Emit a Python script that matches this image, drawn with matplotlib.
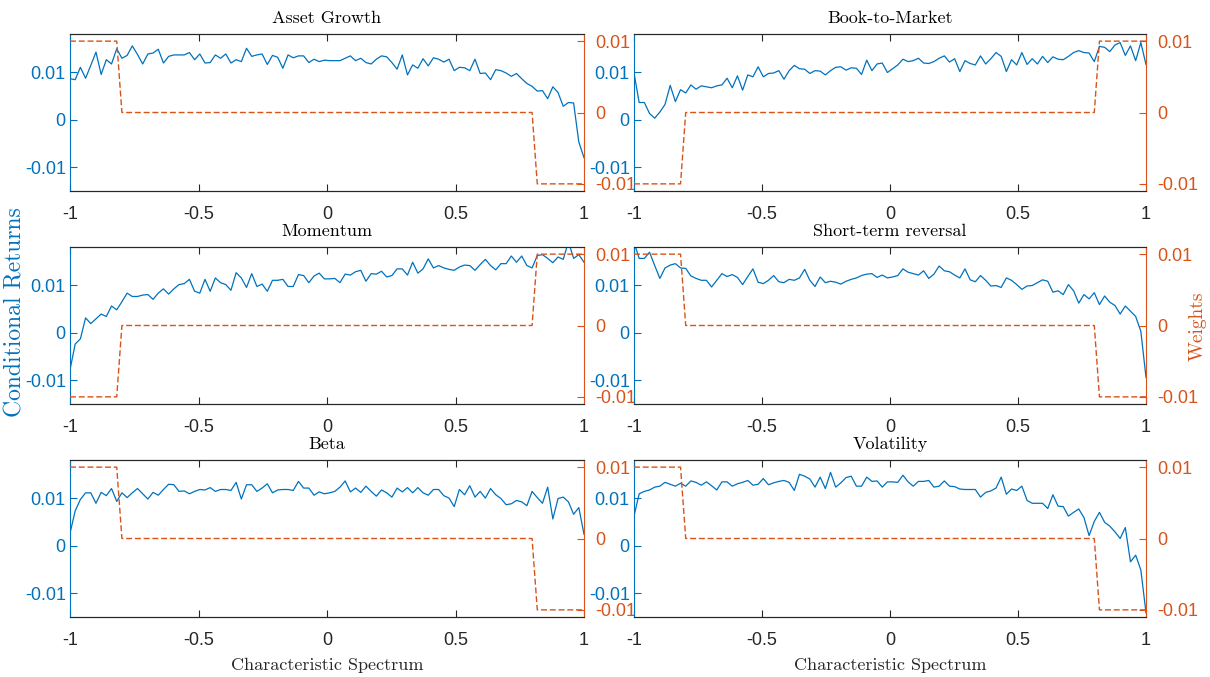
import numpy as np
import matplotlib.pyplot as plt

plt.rcParams['font.family'] = ['Liberation Sans Narrow', 'Liberation Sans', 'DejaVu Sans']

# characteristic spectrum grid (100 portfolios from -1 to 1)
x = np.linspace(-1, 1, 100)

titles = ['Asset Growth', 'Book-to-Market', 'Momentum',
          'Short-term reversal', 'Beta', 'Volatility']

asset_growth = [
    0.0086, 0.0084, 0.0110, 0.0087, 0.0114, 0.0142, 0.0095, 0.0126, 0.0117, 0.0149,
    0.0129, 0.0135, 0.0155, 0.0137, 0.0117, 0.0138, 0.0140, 0.0148, 0.0119, 0.0133,
    0.0136, 0.0136, 0.0136, 0.0141, 0.0126, 0.0138, 0.0119, 0.0120, 0.0136, 0.0129,
    0.0138, 0.0119, 0.0126, 0.0122, 0.0150, 0.0133, 0.0136, 0.0138, 0.0116, 0.0135,
    0.0131, 0.0108, 0.0136, 0.0130, 0.0134, 0.0134, 0.0120, 0.0127, 0.0122, 0.0125,
    0.0124, 0.0124, 0.0124, 0.0129, 0.0134, 0.0124, 0.0129, 0.0120, 0.0117, 0.0127,
    0.0134, 0.0132, 0.0120, 0.0106, 0.0136, 0.0094, 0.0115, 0.0108, 0.0128, 0.0113,
    0.0130, 0.0127, 0.0121, 0.0127, 0.0103, 0.0110, 0.0109, 0.0103, 0.0127, 0.0097,
    0.0098, 0.0084, 0.0105, 0.0103, 0.0098, 0.0091, 0.0097, 0.0086, 0.0076, 0.0070,
    0.0060, 0.0061, 0.0044, 0.0069, 0.0057, 0.0028, 0.0036, 0.0035, -0.0047, -0.0080]

book_to_market = [
    0.0098, 0.0036, 0.0036, 0.0013, 0.0003, 0.0016, 0.0032, 0.0072, 0.0038, 0.0063,
    0.0056, 0.0073, 0.0064, 0.0071, 0.0069, 0.0067, 0.0071, 0.0073, 0.0087, 0.0067,
    0.0092, 0.0062, 0.0094, 0.0090, 0.0111, 0.0090, 0.0097, 0.0098, 0.0103, 0.0085,
    0.0103, 0.0114, 0.0107, 0.0106, 0.0097, 0.0103, 0.0102, 0.0094, 0.0103, 0.0110,
    0.0111, 0.0104, 0.0109, 0.0108, 0.0095, 0.0125, 0.0103, 0.0117, 0.0119, 0.0099,
    0.0107, 0.0115, 0.0127, 0.0122, 0.0124, 0.0129, 0.0119, 0.0118, 0.0122, 0.0129,
    0.0134, 0.0121, 0.0128, 0.0101, 0.0124, 0.0118, 0.0115, 0.0134, 0.0117, 0.0128,
    0.0141, 0.0133, 0.0101, 0.0126, 0.0115, 0.0141, 0.0116, 0.0128, 0.0117, 0.0133,
    0.0120, 0.0132, 0.0127, 0.0126, 0.0133, 0.0141, 0.0145, 0.0141, 0.0140, 0.0122,
    0.0154, 0.0152, 0.0143, 0.0157, 0.0162, 0.0135, 0.0155, 0.0124, 0.0162, 0.0116]

momentum = [
    -0.0078, -0.0024, -0.0013, 0.0031, 0.0019, 0.0029, 0.0039, 0.0034, 0.0056, 0.0048,
    0.0065, 0.0083, 0.0076, 0.0076, 0.0079, 0.0080, 0.0070, 0.0083, 0.0092, 0.0081,
    0.0092, 0.0101, 0.0103, 0.0112, 0.0087, 0.0083, 0.0112, 0.0087, 0.0115, 0.0105,
    0.0101, 0.0089, 0.0126, 0.0115, 0.0095, 0.0124, 0.0097, 0.0102, 0.0087, 0.0110,
    0.0110, 0.0112, 0.0097, 0.0097, 0.0122, 0.0120, 0.0105, 0.0119, 0.0125, 0.0113,
    0.0113, 0.0114, 0.0105, 0.0123, 0.0121, 0.0128, 0.0131, 0.0108, 0.0124, 0.0123,
    0.0129, 0.0117, 0.0120, 0.0134, 0.0134, 0.0121, 0.0148, 0.0125, 0.0134, 0.0155,
    0.0136, 0.0141, 0.0136, 0.0133, 0.0131, 0.0138, 0.0142, 0.0141, 0.0131, 0.0143,
    0.0154, 0.0141, 0.0132, 0.0145, 0.0145, 0.0161, 0.0148, 0.0161, 0.0141, 0.0136,
    0.0162, 0.0164, 0.0156, 0.0147, 0.0159, 0.0154, 0.0191, 0.0156, 0.0164, 0.0148]

short_term_reversal = [
    0.0190, 0.0156, 0.0156, 0.0169, 0.0141, 0.0114, 0.0136, 0.0142, 0.0145, 0.0136,
    0.0135, 0.0119, 0.0114, 0.0110, 0.0110, 0.0096, 0.0110, 0.0124, 0.0118, 0.0122,
    0.0116, 0.0101, 0.0118, 0.0134, 0.0106, 0.0103, 0.0110, 0.0120, 0.0107, 0.0105,
    0.0112, 0.0110, 0.0115, 0.0133, 0.0110, 0.0097, 0.0117, 0.0105, 0.0108, 0.0106,
    0.0102, 0.0108, 0.0112, 0.0115, 0.0120, 0.0123, 0.0124, 0.0116, 0.0121, 0.0115,
    0.0117, 0.0120, 0.0134, 0.0127, 0.0124, 0.0121, 0.0130, 0.0114, 0.0123, 0.0140,
    0.0130, 0.0128, 0.0121, 0.0115, 0.0134, 0.0111, 0.0107, 0.0120, 0.0110, 0.0098,
    0.0099, 0.0095, 0.0115, 0.0110, 0.0101, 0.0091, 0.0098, 0.0099, 0.0105, 0.0111,
    0.0108, 0.0085, 0.0088, 0.0080, 0.0101, 0.0088, 0.0062, 0.0080, 0.0071, 0.0084,
    0.0059, 0.0077, 0.0064, 0.0057, 0.0039, 0.0056, 0.0045, 0.0034, 0.0003, -0.0094]

beta = [
    0.0026, 0.0073, 0.0097, 0.0111, 0.0111, 0.0089, 0.0112, 0.0105, 0.0120, 0.0093,
    0.0111, 0.0101, 0.0111, 0.0120, 0.0109, 0.0098, 0.0112, 0.0106, 0.0118, 0.0129,
    0.0128, 0.0114, 0.0115, 0.0109, 0.0114, 0.0118, 0.0117, 0.0122, 0.0114, 0.0118,
    0.0118, 0.0116, 0.0133, 0.0098, 0.0128, 0.0128, 0.0114, 0.0121, 0.0130, 0.0111,
    0.0117, 0.0118, 0.0118, 0.0116, 0.0135, 0.0121, 0.0121, 0.0106, 0.0113, 0.0109,
    0.0111, 0.0114, 0.0123, 0.0136, 0.0113, 0.0121, 0.0112, 0.0125, 0.0114, 0.0104,
    0.0117, 0.0111, 0.0102, 0.0121, 0.0113, 0.0122, 0.0111, 0.0122, 0.0111, 0.0106,
    0.0118, 0.0118, 0.0105, 0.0100, 0.0082, 0.0118, 0.0107, 0.0126, 0.0102, 0.0114,
    0.0100, 0.0120, 0.0107, 0.0099, 0.0086, 0.0088, 0.0095, 0.0092, 0.0084, 0.0114,
    0.0101, 0.0089, 0.0123, 0.0056, 0.0099, 0.0102, 0.0092, 0.0066, 0.0080, 0.0024]

volatility = [
    0.0062, 0.0109, 0.0114, 0.0117, 0.0123, 0.0125, 0.0133, 0.0129, 0.0125, 0.0131,
    0.0125, 0.0136, 0.0133, 0.0127, 0.0134, 0.0126, 0.0117, 0.0134, 0.0134, 0.0125,
    0.0130, 0.0133, 0.0137, 0.0127, 0.0129, 0.0141, 0.0128, 0.0132, 0.0135, 0.0137,
    0.0133, 0.0116, 0.0150, 0.0146, 0.0140, 0.0123, 0.0144, 0.0120, 0.0154, 0.0123,
    0.0132, 0.0143, 0.0146, 0.0125, 0.0125, 0.0144, 0.0135, 0.0136, 0.0123, 0.0134,
    0.0134, 0.0133, 0.0148, 0.0134, 0.0125, 0.0135, 0.0135, 0.0137, 0.0123, 0.0125,
    0.0136, 0.0125, 0.0124, 0.0119, 0.0118, 0.0118, 0.0118, 0.0102, 0.0112, 0.0115,
    0.0121, 0.0144, 0.0108, 0.0119, 0.0116, 0.0125, 0.0095, 0.0089, 0.0089, 0.0089,
    0.0078, 0.0107, 0.0083, 0.0082, 0.0062, 0.0070, 0.0077, 0.0059, 0.0021, 0.0051,
    0.0070, 0.0049, 0.0041, 0.0029, 0.0015, 0.0038, -0.0034, -0.0020, -0.0051, -0.0141]

returns = [asset_growth, book_to_market, momentum, short_term_reversal, beta, volatility]

# weights: bottom 10 and top 10 portfolios, zero in between
low_weight = [0.01, -0.01, -0.01, 0.01, 0.01, 0.01]
high_weight = [-0.01, 0.01, 0.01, -0.01, -0.01, -0.01]
n_tail = 10

xtick_vals = [-1, -0.5, 0, 0.5, 1]
xtick_labels = ['-1', '-0.5', '0', '0.5', '1']
ytick_vals = [-0.01, 0, 0.01]
ytick_labels = ['-0.01', '0', '0.01']

blue = '#0072BD'
orange = '#D95319'
dark = '#262626'

W, H = 1210, 677
fig = plt.figure(figsize=(W / 100, H / 100), dpi=100)

lefts = [70, 634]
widths = [514, 512]
tops = [34, 247, 460]
height = 157

for k in range(6):
    row, col = k // 2, k % 2
    ax = fig.add_axes([lefts[col] / W, 1 - (tops[row] + height) / H,
                       widths[col] / W, height / H])
    ax.plot(x, returns[k], color=blue, lw=0.9)
    ax.set_xlim(-1, 1)
    ax.set_ylim(-0.015, 0.018)
    ax.set_xticks(xtick_vals)
    ax.set_xticklabels(xtick_labels)
    ax.set_yticks(ytick_vals)
    ax.set_yticklabels(ytick_labels)
    ax.tick_params(axis='x', direction='in', top=True, length=5, width=0.8,
                   colors=dark, labelsize=13, pad=11)
    ax.tick_params(axis='y', direction='in', length=5, width=0.8,
                   colors=blue, labelsize=13, pad=3)
    ax.set_title(titles[k], fontfamily='cmr10', fontsize=13, pad=8)

    w = [low_weight[k]] * n_tail + [0.0] * (len(x) - 2 * n_tail) + [high_weight[k]] * n_tail
    ax2 = ax.twinx()
    ax2.plot(x, w, color=orange, lw=1.0, dashes=(4.3, 2.0))
    ax2.set_ylim(-0.011, 0.011)
    ax2.set_yticks(ytick_vals)
    ax2.set_yticklabels(ytick_labels)
    ax2.tick_params(axis='y', direction='in', length=5, width=0.8,
                    colors=orange, labelsize=13, pad=8)

    for a in (ax, ax2):
        a.spines['top'].set_color(dark)
        a.spines['bottom'].set_color(dark)
        for s in a.spines.values():
            s.set_linewidth(0.8)
    ax.spines['left'].set_color(blue)
    ax.spines['right'].set_visible(False)
    ax2.spines['left'].set_visible(False)
    ax2.spines['right'].set_color(orange)

    if row == 2:
        ax.set_xlabel('Characteristic Spectrum', fontfamily='cmr10',
                      fontsize=13, labelpad=6, color=dark)

fig.text(15 / W, 1 - 312 / H, 'Conditional Returns', rotation=90, color=blue,
         fontfamily='cmr10', fontsize=17, ha='center', va='center')
fig.text(1198 / W, 1 - 326 / H, 'Weights', rotation=90, color=orange,
         fontfamily='cmr10', fontsize=14, ha='center', va='center')

fig.savefig('out.png', dpi=100)
